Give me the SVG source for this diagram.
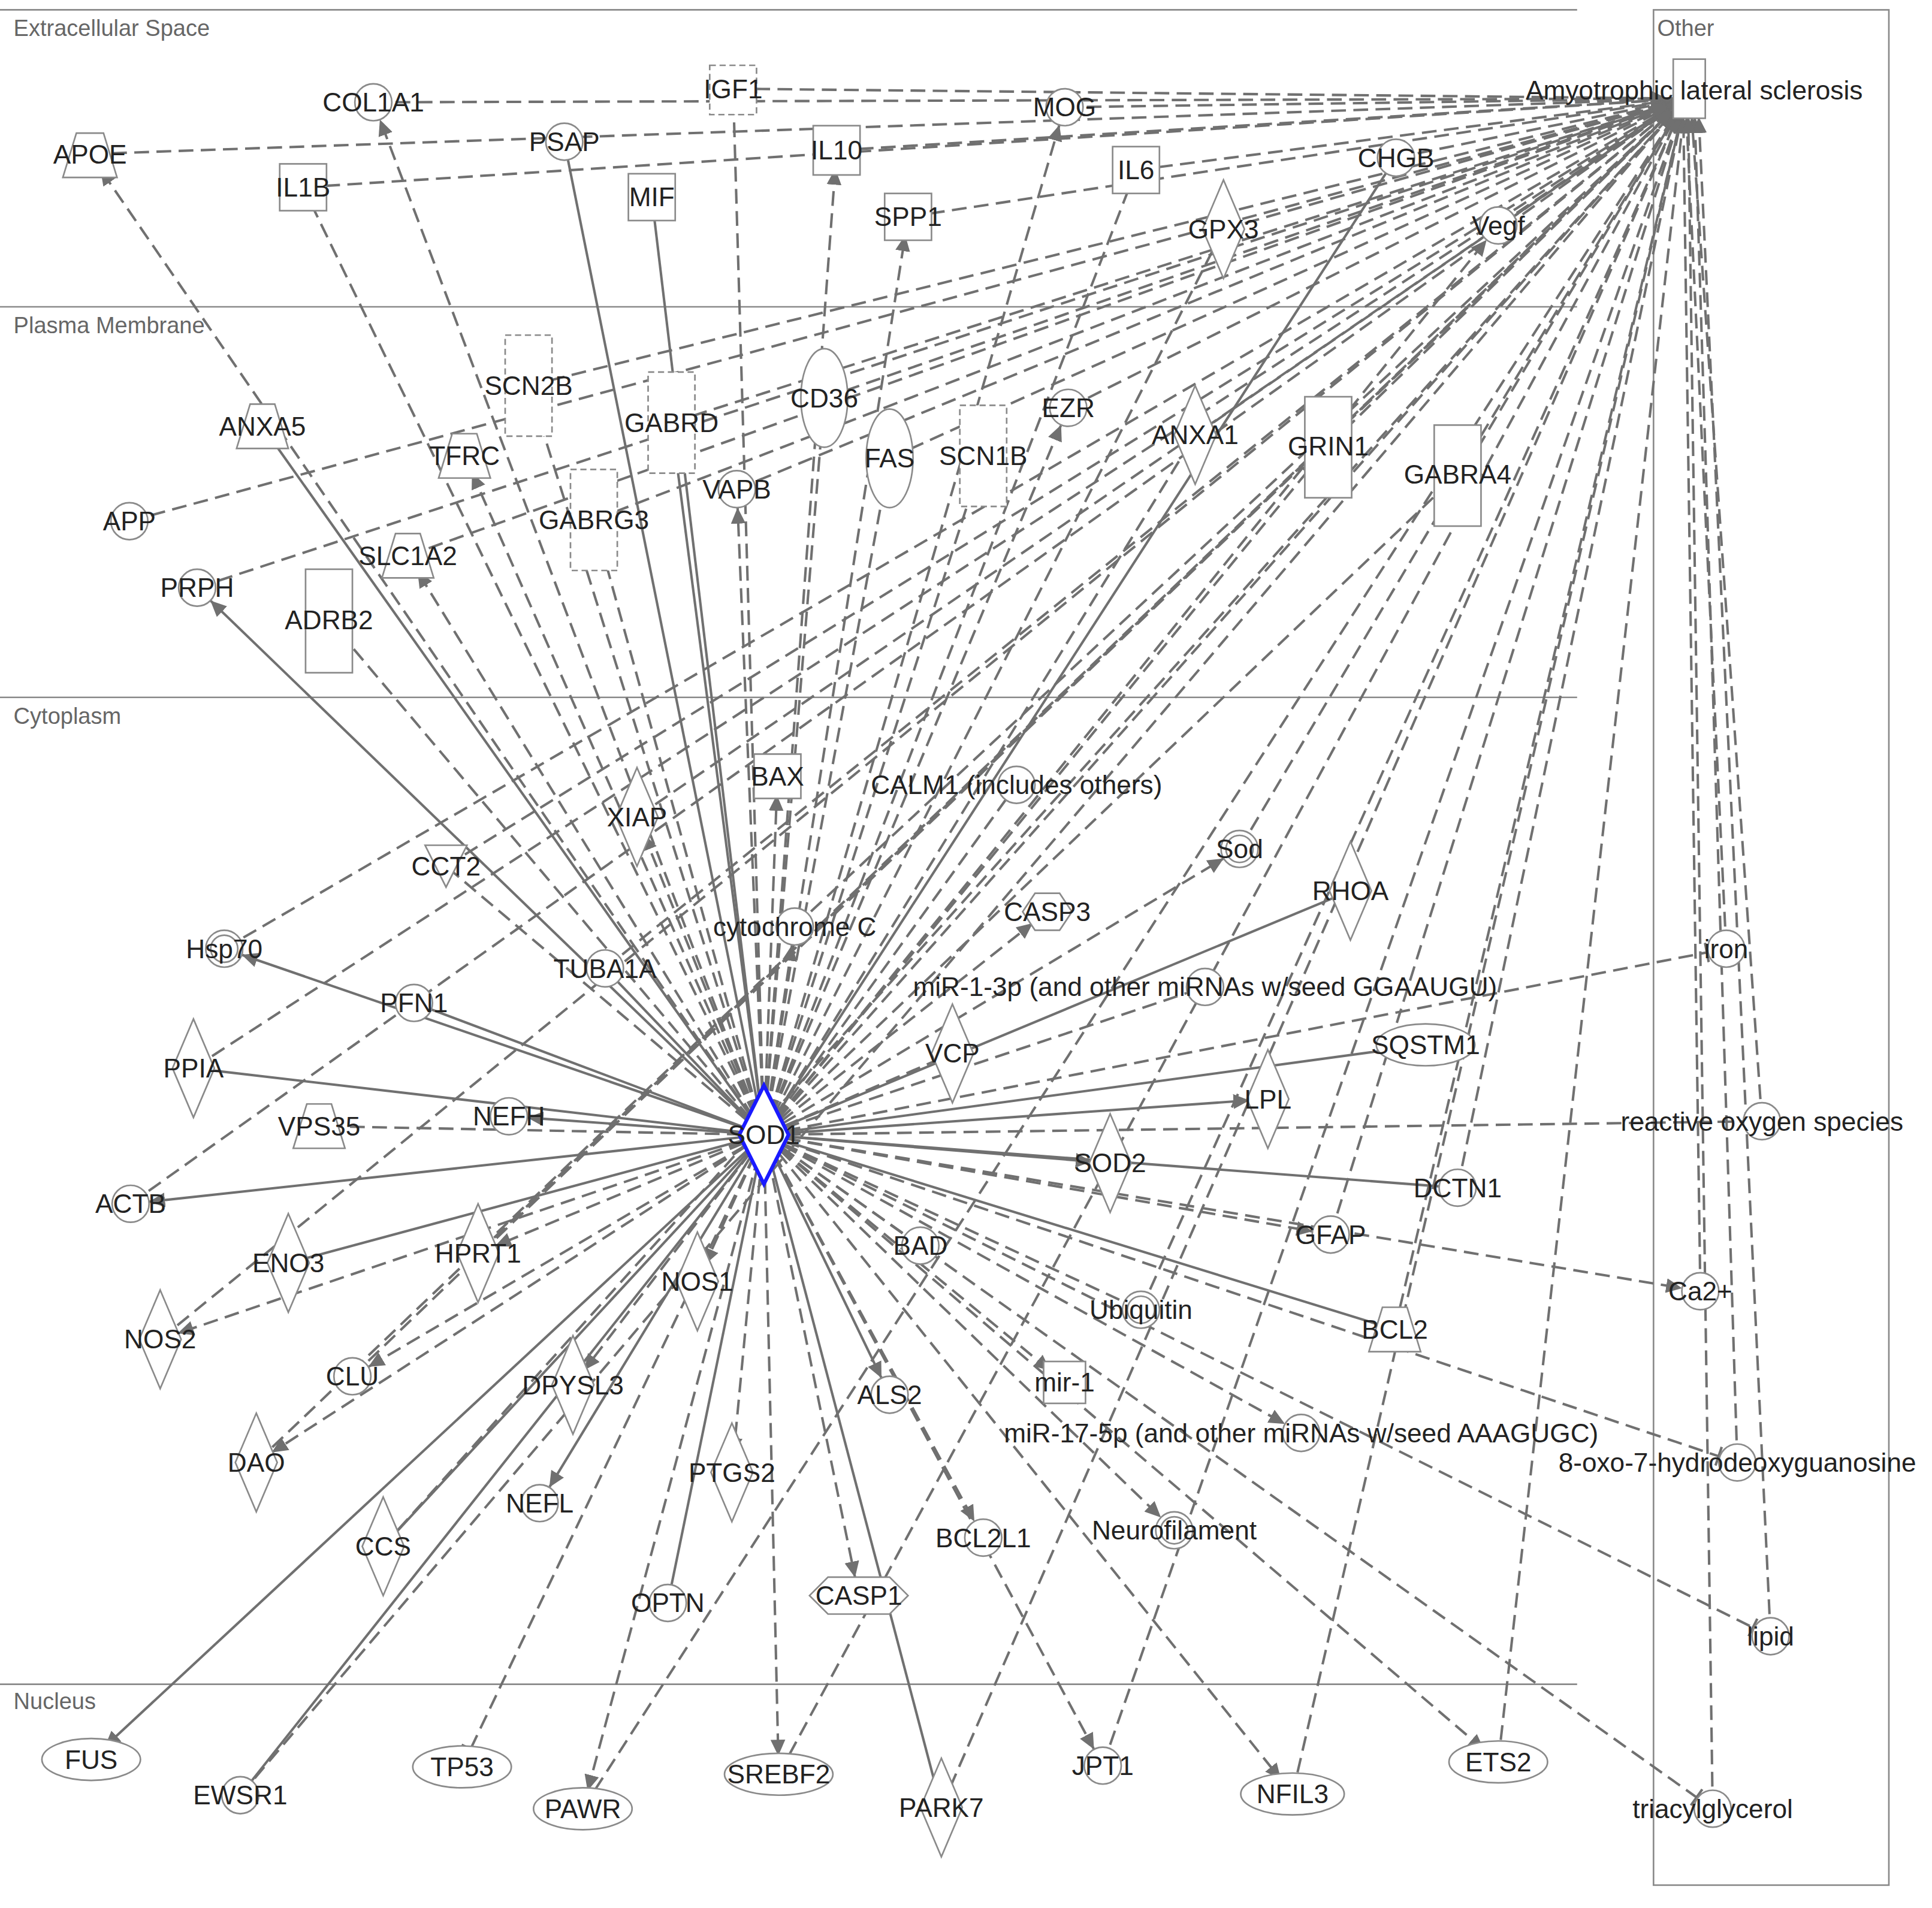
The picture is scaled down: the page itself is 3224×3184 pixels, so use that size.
<svg xmlns="http://www.w3.org/2000/svg" width="3224" height="3184" viewBox="0 0 3224 3184">
<style>
text{font-family:"Liberation Sans",Arial,sans-serif;font-size:21.5px;fill:#222;text-anchor:middle;dominant-baseline:central}
.lab{font-size:18.5px;fill:#666;text-anchor:start}
.n{fill:#fff;stroke:#8a8a8a;stroke-width:1.3}
.nd{fill:#fff;stroke:#8a8a8a;stroke-width:1.3;stroke-dasharray:5,3}
.sep{stroke:#8a8a8a;stroke-width:1.3;fill:none}
.e{fill:none;stroke:#707070;stroke-width:2}
.s{marker-end:url(#a)}
.d{stroke-dasharray:12,6;marker-end:url(#a)}
.dl{stroke-dasharray:12,6}
.di{stroke-dasharray:12,6;marker-end:url(#t)}
</style>
<defs>
<marker id="a" markerUnits="userSpaceOnUse" markerWidth="40" markerHeight="14" refX="28" refY="6" orient="auto" viewBox="0 0 40 12"><path d="M0,0L13,6L0,12z" fill="#707070"/></marker>
<marker id="t" markerUnits="userSpaceOnUse" markerWidth="40" markerHeight="16" refX="18" refY="8" orient="auto" viewBox="0 0 40 16"><path d="M2,0V16" stroke="#707070" stroke-width="2"/></marker>
</defs>
<rect width="3224" height="3184" fill="#fff"/>
<g transform="scale(2.0561)">
<g id="frame">
<line class="sep" x1="0" y1="8" x2="1280" y2="8"/><line class="sep" x1="0" y1="249" x2="1280" y2="249"/>
<line class="sep" x1="0" y1="566" x2="1280" y2="566"/><line class="sep" x1="0" y1="1367" x2="1280" y2="1367"/>
<rect class="sep" x="1342" y="8" width="191" height="1522"/>
<text class="lab" x="11" y="23">Extracellular Space</text><text class="lab" x="11" y="264">Plasma Membrane</text>
<text class="lab" x="11" y="581">Cytoplasm</text><text class="lab" x="11" y="1381">Nucleus</text><text class="lab" x="1345" y="23">Other</text>
</g>
<g id="connectors" class="e">
<path class="e s" d="M620,921L160,477"/><path class="e" d="M620,921L213,346"/><path class="e" d="M620,921L458,115"/><path class="e" d="M620,921L529,160"/>
<path class="e s" d="M620,921L182,770"/><path class="e" d="M620,921L157,867"/><path class="e s" d="M620,921L106,977"/><path class="e" d="M620,921L234,1025"/>
<path class="e s" d="M620,921L74,1428"/><path class="e" d="M620,921L195,1457"/><path class="e" d="M620,921L311,1255"/><path class="e" d="M620,921L542,1301"/>
<path class="e" d="M620,921L764,1467"/><path class="e s" d="M620,921L722,1132"/><path class="e s" d="M620,921L1157,848"/><path class="e s" d="M620,921L1029,892"/>
<path class="e s" d="M620,921L901,944"/><path class="e" d="M620,921L1183,964"/><path class="e" d="M620,921L1132,1079"/><path class="e" d="M620,921L1096,723"/>
<path class="e s" d="M620,921L413,906"/><path class="e s" d="M620,921L438,1220"/><path class="e" d="M620,921L336,814"/><path class="e" d="M620,921L491,786"/>
<path class="e d" d="M620,921L303,83"/><path class="e d" d="M620,921L73,125"/><path class="e di" d="M620,921L246,152"/><path class="e dl" d="M620,921L595,72"/>
<path class="e d" d="M620,921L679,122"/><path class="e d" d="M620,921L737,176"/><path class="e d" d="M620,921L864,87"/><path class="e di" d="M620,921L922,138"/>
<path class="e dl" d="M620,921L993,186"/><path class="e" d="M620,921L1133,128"/><path class="e d" d="M620,921L1216,183"/><path class="e d" d="M620,921L429,313"/>
<path class="e d" d="M620,921L377,370"/><path class="e s" d="M620,921L545,343"/><path class="e dl" d="M620,921L669,323"/><path class="e d" d="M620,921L598,397"/>
<path class="e d" d="M620,921L722,372"/><path class="e d" d="M620,921L798,370"/><path class="e d" d="M620,921L867,331"/><path class="e dl" d="M620,921L970,353"/>
<path class="e d" d="M620,921L1078,362"/><path class="e dl" d="M620,921L1183,385"/><path class="e d" d="M620,921L482,422"/><path class="e d" d="M620,921L331,451"/>
<path class="e dl" d="M620,921L267,503"/><path class="e d" d="M620,921L631,630"/><path class="e d" d="M620,921L517,663"/><path class="e dl" d="M620,921L362,703"/>
<path class="e dl" d="M620,921L825,637"/><path class="e d" d="M620,921L1006,689"/><path class="e d" d="M620,921L850,740"/><path class="e d" d="M620,921L645,752"/>
<path class="e dl" d="M620,921L978,801"/><path class="e dl" d="M620,921L773,855"/><path class="e dl" d="M620,921L259,914"/><path class="e d" d="M620,921L388,1017"/>
<path class="e d" d="M620,921L566,1040"/><path class="e d" d="M620,921L130,1087"/><path class="e d" d="M620,921L286,1117"/><path class="e d" d="M620,921L208,1187"/>
<path class="e d" d="M620,921L465,1124"/><path class="e d" d="M620,921L594,1195"/><path class="e d" d="M620,921L697,1295"/><path class="e d" d="M620,921L798,1248"/>
<path class="e d" d="M620,921L953,1242"/><path class="e d" d="M620,921L864,1122"/><path class="e d" d="M620,921L1056,1163"/><path class="e dl" d="M620,921L926,1063"/>
<path class="e dl" d="M620,921L747,1011"/><path class="e d" d="M620,921L1080,1002"/><path class="e di" d="M620,921L375,1434"/><path class="e d" d="M620,921L473,1468"/>
<path class="e d" d="M620,921L632,1440"/><path class="e d" d="M620,921L895,1433"/><path class="e d" d="M620,921L1049,1456"/><path class="e d" d="M620,921L1216,1430"/>
<path class="e di" d="M620,921L1401,770"/><path class="e dl" d="M620,921L1430,910"/><path class="e d" d="M620,921L1380,1048"/><path class="e di" d="M620,921L1410,1187"/>
<path class="e di" d="M620,921L1437,1328"/><path class="e di" d="M620,921L1390,1468"/>
<g class="e d">
<path d="M73,125L1368,80"/><path d="M303,83L1368,80"/><path d="M595,72L1368,80"/><path d="M246,152L1368,80"/><path d="M679,122L1368,80"/>
<path d="M864,87L1368,80"/><path d="M922,138L1368,80"/><path d="M737,176L1368,80"/><path d="M1133,128L1368,80"/><path d="M993,186L1368,80"/>
<path d="M1216,183L1368,80"/><path d="M429,313L1368,80"/><path d="M545,343L1368,80"/><path d="M669,323L1368,80"/><path d="M722,372L1368,80"/>
<path d="M867,331L1368,80"/><path d="M970,353L1368,80"/><path d="M1078,362L1368,80"/><path d="M1183,385L1368,80"/><path d="M105,423L1368,80"/>
<path d="M160,477L1368,80"/><path d="M482,422L1368,80"/><path d="M517,663L1368,80"/><path d="M362,703L1368,80"/><path d="M182,770L1368,80"/>
<path d="M157,867L1368,80"/><path d="M106,977L1368,80"/><path d="M130,1087L1368,80"/><path d="M286,1117L1368,80"/><path d="M208,1187L1368,80"/>
<path d="M388,1017L1368,80"/><path d="M620,921L1368,80"/><path d="M1006,689L1368,80"/><path d="M926,1063L1368,80"/><path d="M1132,1079L1368,80"/>
<path d="M1183,964L1368,80"/><path d="M1216,1430L1368,80"/><path d="M1049,1456L1368,80"/><path d="M895,1433L1368,80"/><path d="M764,1467L1368,80"/>
<path d="M632,1440L1368,80"/><path d="M311,1255L1368,80"/><path d="M195,1457L1368,80"/><path d="M473,1468L1368,80"/><path d="M1080,1002L1368,80"/>
<path d="M645,752L1368,80"/><path d="M491,786L1368,80"/><path d="M331,451L1368,80"/><path d="M598,397L1368,80"/>
<path d="M1401,770L1368,80"/><path d="M1430,910L1372,80"/><path d="M1380,1048L1366,80"/><path d="M1410,1187L1375,80"/><path d="M1437,1328L1378,80"/><path d="M1390,1468L1370,80"/>
</g>
</g>
<g id="nodes">
<g id="ALS"><rect class="n" x="1358" y="48" width="26" height="48"/><text x="1375" y="73">Amyotrophic lateral sclerosis</text></g>
<g id="APOE"><path class="n" d="M62,108H84L95,144H51z"/><text x="73" y="125">APOE</text></g>
<g id="COL1A1"><circle class="n" cx="303" cy="83" r="15"/><text x="303" y="83">COL1A1</text></g>
<g id="PSAP"><circle class="n" cx="458" cy="115" r="15"/><text x="458" y="115">PSAP</text></g>
<g id="IGF1"><rect class="nd" x="576" y="53" width="38" height="40"/><text x="595" y="72">IGF1</text></g>
<g id="IL1B"><rect class="n" x="227" y="133" width="38" height="38"/><text x="246" y="152">IL1B</text></g>
<g id="MIF"><rect class="n" x="510" y="141" width="38" height="38"/><text x="529" y="160">MIF</text></g>
<g id="IL10"><rect class="n" x="660" y="102" width="38" height="40"/><text x="679" y="122">IL10</text></g>
<g id="SPP1"><rect class="n" x="718" y="157" width="38" height="38"/><text x="737" y="176">SPP1</text></g>
<g id="MOG"><circle class="n" cx="864" cy="87" r="15"/><text x="864" y="87">MOG</text></g>
<g id="IL6"><rect class="n" x="903" y="119" width="38" height="38"/><text x="922" y="138">IL6</text></g>
<g id="CHGB"><circle class="n" cx="1133" cy="128" r="15"/><text x="1133" y="128">CHGB</text></g>
<g id="GPX3"><path class="n" d="M993,146L1010,186L993,226L976,186z"/><text x="993" y="186">GPX3</text></g>
<g id="Vegf"><circle class="n" cx="1216" cy="183" r="15"/><text x="1216" y="183">Vegf</text></g>
<g id="ANXA5"><path class="n" d="M203,328H223L234,364H192z"/><text x="213" y="346">ANXA5</text></g>
<g id="SCN2B"><rect class="nd" x="410" y="272" width="38" height="82"/><text x="429" y="313">SCN2B</text></g>
<g id="TFRC"><path class="n" d="M367,352H387L398,388H356z"/><text x="377" y="370">TFRC</text></g>
<g id="GABRD"><rect class="nd" x="526" y="302" width="38" height="82"/><text x="545" y="343">GABRD</text></g>
<g id="CD36"><ellipse class="n" cx="669" cy="323" rx="19" ry="40"/><text x="669" y="323">CD36</text></g>
<g id="FAS"><ellipse class="n" cx="722" cy="372" rx="19" ry="40"/><text x="722" y="372">FAS</text></g>
<g id="SCN1B"><rect class="nd" x="779" y="329" width="38" height="82"/><text x="798" y="370">SCN1B</text></g>
<g id="EZR"><circle class="n" cx="867" cy="331" r="15"/><text x="867" y="331">EZR</text></g>
<g id="ANXA1"><path class="n" d="M970,313L987,353L970,393L953,353z"/><text x="970" y="353">ANXA1</text></g>
<g id="GRIN1"><rect class="n" x="1059" y="322" width="38" height="82"/><text x="1078" y="362">GRIN1</text></g>
<g id="GABRA4"><rect class="n" x="1164" y="345" width="38" height="82"/><text x="1183" y="385">GABRA4</text></g>
<g id="VAPB"><circle class="n" cx="598" cy="397" r="15"/><text x="598" y="397">VAPB</text></g>
<g id="GABRG3"><rect class="nd" x="463" y="381" width="38" height="82"/><text x="482" y="422">GABRG3</text></g>
<g id="APP"><circle class="n" cx="105" cy="423" r="15"/><text x="105" y="423">APP</text></g>
<g id="SLC1A2"><path class="n" d="M321,433H341L352,469H310z"/><text x="331" y="451">SLC1A2</text></g>
<g id="PRPH"><circle class="n" cx="160" cy="477" r="15"/><text x="160" y="477">PRPH</text></g>
<g id="ADRB2"><rect class="n" x="248" y="462" width="38" height="84"/><text x="267" y="503">ADRB2</text></g>
<g id="BAX"><path class="n" d="M612,612H650V648H612z"/><text x="631" y="630">BAX</text></g>
<g id="CALM1"><circle class="n" cx="825" cy="637" r="15"/><text x="825" y="637">CALM1 (includes others)</text></g>
<g id="XIAP"><path class="n" d="M517,623L534,663L517,703L500,663z"/><text x="517" y="663">XIAP</text></g>
<g id="CCT2"><path class="n" d="M345,686H379L362,720z"/><text x="362" y="703">CCT2</text></g>
<g id="Sod"><circle class="n" cx="1006" cy="689" r="15"/><circle class="n" cx="1006" cy="689" r="11"/><text x="1006" y="689">Sod</text></g>
<g id="RHOA"><path class="n" d="M1096,683L1113,723L1096,763L1079,723z"/><text x="1096" y="723">RHOA</text></g>
<g id="CASP3"><path class="n" d="M830,740L840,725H860L870,740L860,755H840z"/><text x="850" y="740">CASP3</text></g>
<g id="Hsp70"><circle class="n" cx="182" cy="770" r="15"/><circle class="n" cx="182" cy="770" r="11"/><text x="182" y="770">Hsp70</text></g>
<g id="cytochromeC"><circle class="n" cx="645" cy="752" r="15"/><text x="645" y="752">cytochrome C</text></g>
<g id="TUBA1A"><circle class="n" cx="491" cy="786" r="15"/><text x="491" y="786">TUBA1A</text></g>
<g id="PFN1"><circle class="n" cx="336" cy="814" r="15"/><text x="336" y="814">PFN1</text></g>
<g id="miR-1-3p"><circle class="n" cx="978" cy="801" r="15"/><text x="978" y="801">miR-1-3p (and other miRNAs w/seed GGAAUGU)</text></g>
<g id="iron"><circle class="n" cx="1401" cy="770" r="15"/><text x="1401" y="770">iron</text></g>
<g id="SQSTM1"><ellipse class="n" cx="1157" cy="848" rx="40" ry="17"/><text x="1157" y="848">SQSTM1</text></g>
<g id="VCP"><path class="n" d="M773,815L790,855L773,895L756,855z"/><text x="773" y="855">VCP</text></g>
<g id="PPIA"><path class="n" d="M157,827L174,867L157,907L140,867z"/><text x="157" y="867">PPIA</text></g>
<g id="LPL"><path class="n" d="M1029,852L1046,892L1029,932L1012,892z"/><text x="1029" y="892">LPL</text></g>
<g id="VPS35"><path class="n" d="M249,896H269L280,932H238z"/><text x="259" y="914">VPS35</text></g>
<g id="NEFH"><circle class="n" cx="413" cy="906" r="15"/><text x="413" y="906">NEFH</text></g>
<g id="ROS"><circle class="n" cx="1430" cy="910" r="15"/><text x="1430" y="910">reactive oxygen species</text></g>
<g id="SOD2"><path class="n" d="M901,904L918,944L901,984L884,944z"/><text x="901" y="944">SOD2</text></g>
<g id="DCTN1"><circle class="n" cx="1183" cy="964" r="15"/><text x="1183" y="964">DCTN1</text></g>
<g id="ACTB"><circle class="n" cx="106" cy="977" r="15"/><text x="106" y="977">ACTB</text></g>
<g id="GFAP"><circle class="n" cx="1080" cy="1002" r="15"/><text x="1080" y="1002">GFAP</text></g>
<g id="ENO3"><path class="n" d="M234,985L251,1025L234,1065L217,1025z"/><text x="234" y="1025">ENO3</text></g>
<g id="HPRT1"><path class="n" d="M388,977L405,1017L388,1057L371,1017z"/><text x="388" y="1017">HPRT1</text></g>
<g id="BAD"><circle class="n" cx="747" cy="1011" r="15"/><text x="747" y="1011">BAD</text></g>
<g id="NOS1"><path class="n" d="M566,1000L583,1040L566,1080L549,1040z"/><text x="566" y="1040">NOS1</text></g>
<g id="Ca2"><circle class="n" cx="1380" cy="1048" r="15"/><text x="1380" y="1048">Ca2+</text></g>
<g id="Ubiquitin"><circle class="n" cx="926" cy="1063" r="15"/><circle class="n" cx="926" cy="1063" r="11"/><text x="926" y="1063">Ubiquitin</text></g>
<g id="NOS2"><path class="n" d="M130,1047L147,1087L130,1127L113,1087z"/><text x="130" y="1087">NOS2</text></g>
<g id="BCL2"><path class="n" d="M1122,1061H1142L1153,1097H1111z"/><text x="1132" y="1079">BCL2</text></g>
<g id="CLU"><circle class="n" cx="286" cy="1117" r="15"/><text x="286" y="1117">CLU</text></g>
<g id="DPYSL3"><path class="n" d="M465,1084L482,1124L465,1164L448,1124z"/><text x="465" y="1124">DPYSL3</text></g>
<g id="mir-1"><rect class="n" x="847" y="1105" width="34" height="34"/><text x="864" y="1122">mir-1</text></g>
<g id="ALS2"><circle class="n" cx="722" cy="1132" r="15"/><text x="722" y="1132">ALS2</text></g>
<g id="miR-17-5p"><circle class="n" cx="1056" cy="1163" r="15"/><text x="1056" y="1163">miR-17-5p (and other miRNAs w/seed AAAGUGC)</text></g>
<g id="oxo"><circle class="n" cx="1410" cy="1187" r="15"/><text x="1410" y="1187">8-oxo-7-hydrodeoxyguanosine</text></g>
<g id="DAO"><path class="n" d="M208,1147L225,1187L208,1227L191,1187z"/><text x="208" y="1187">DAO</text></g>
<g id="PTGS2"><path class="n" d="M594,1155L611,1195L594,1235L577,1195z"/><text x="594" y="1195">PTGS2</text></g>
<g id="NEFL"><circle class="n" cx="438" cy="1220" r="15"/><text x="438" y="1220">NEFL</text></g>
<g id="BCL2L1"><circle class="n" cx="798" cy="1248" r="15"/><text x="798" y="1248">BCL2L1</text></g>
<g id="Neurofilament"><circle class="n" cx="953" cy="1242" r="15"/><circle class="n" cx="953" cy="1242" r="11"/><text x="953" y="1242">Neurofilament</text></g>
<g id="CCS"><path class="n" d="M311,1215L328,1255L311,1295L294,1255z"/><text x="311" y="1255">CCS</text></g>
<g id="OPTN"><circle class="n" cx="542" cy="1301" r="15"/><text x="542" y="1301">OPTN</text></g>
<g id="CASP1"><path class="n" d="M657,1295L672,1280H722L737,1295L722,1310H672z"/><text x="697" y="1295">CASP1</text></g>
<g id="lipid"><circle class="n" cx="1437" cy="1328" r="15"/><text x="1437" y="1328">lipid</text></g>
<g id="FUS"><ellipse class="n" cx="74" cy="1428" rx="40" ry="17"/><text x="74" y="1428">FUS</text></g>
<g id="EWSR1"><circle class="n" cx="195" cy="1457" r="15"/><text x="195" y="1457">EWSR1</text></g>
<g id="TP53"><ellipse class="n" cx="375" cy="1434" rx="40" ry="17"/><text x="375" y="1434">TP53</text></g>
<g id="PAWR"><ellipse class="n" cx="473" cy="1468" rx="40" ry="17"/><text x="473" y="1468">PAWR</text></g>
<g id="SREBF2"><ellipse class="n" cx="632" cy="1440" rx="44" ry="17"/><text x="632" y="1440">SREBF2</text></g>
<g id="PARK7"><path class="n" d="M764,1427L781,1467L764,1507L747,1467z"/><text x="764" y="1467">PARK7</text></g>
<g id="JPT1"><circle class="n" cx="895" cy="1433" r="15"/><text x="895" y="1433">JPT1</text></g>
<g id="NFIL3"><ellipse class="n" cx="1049" cy="1456" rx="42" ry="17"/><text x="1049" y="1456">NFIL3</text></g>
<g id="ETS2"><ellipse class="n" cx="1216" cy="1430" rx="40" ry="17"/><text x="1216" y="1430">ETS2</text></g>
<g id="triacylglycerol"><circle class="n" cx="1390" cy="1468" r="15"/><text x="1390" y="1468">triacylglycerol</text></g>
<g id="SOD1"><path d="M620,881L640,921L620,961L600,921z" fill="#fff" stroke="#1a1aff" stroke-width="3"/><text x="620" y="921">SOD1</text></g>
</g>
</g>
</svg>
